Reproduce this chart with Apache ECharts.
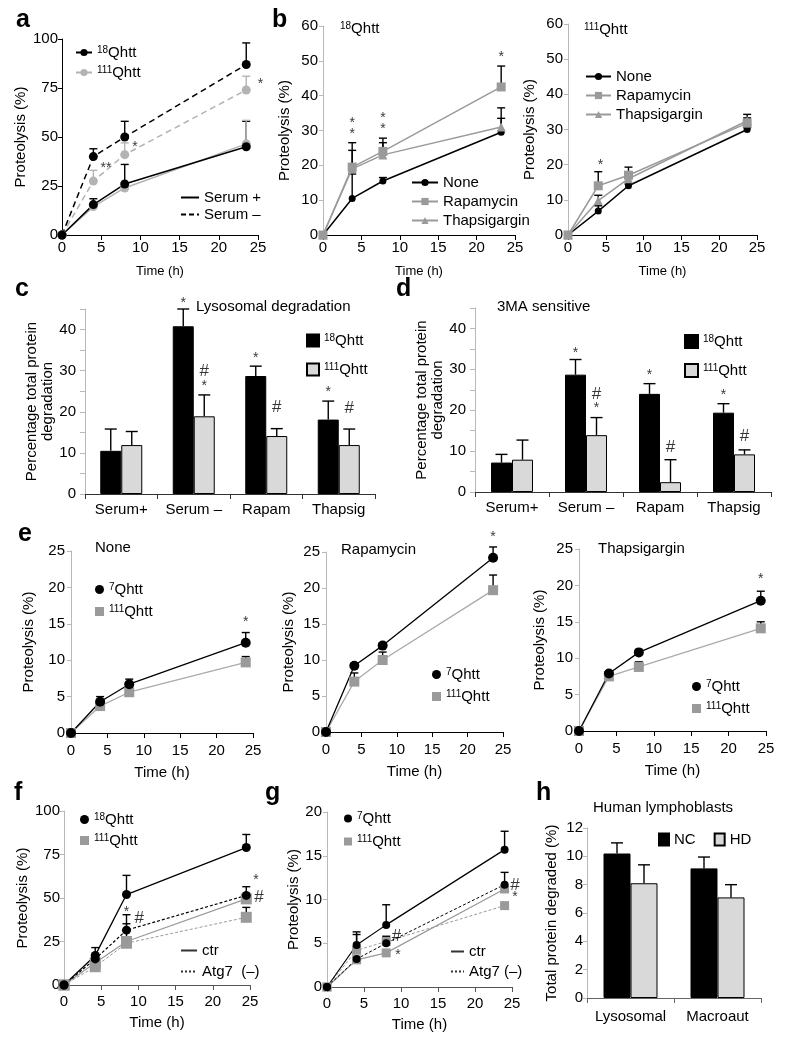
<!DOCTYPE html>
<html><head><meta charset="utf-8">
<script src="https://cdn.jsdelivr.net/npm/echarts@6/dist/echarts.min.js"></script>
<style>html,body{margin:0;padding:0;background:#fff;}#chart{width:789px;height:1050px;}</style>
</head><body><div id="chart"></div>
<script>
// ===================== DATA =====================
// panel a
const aTime = [0, 4, 8, 23.5];
const a18Minus = [0, 40, 50, 87];
const a18MinusErr = [0, 4, 8, 11];
const a111Minus = [0, 27.5, 41, 74];
const a111MinusErr = [0, 5.5, 6, 7];
const a18Plus = [0, 15.5, 26, 45];
const a18PlusErr = [0, 3, 10, 13];
const a111Plus = [0, 14.5, 24, 46.5];
const a111PlusErr = [0, 0, 0, 12];
const aMarks = [[5.6, 34, '**'], [9.3, 45, '*'], [25.3, 77, '*']];
// panel b (18Qhtt)
const b1Time = [0, 3.8, 7.8, 23.2];
const b1None = [0, 10.5, 15.5, 29.5];
const b1NoneErr = [0, 7, 1, 4];
const b1Rapa = [0, 19.5, 24, 42.5];
const b1RapaErr = [0, 7, 3.8, 6];
const b1Thap = [0, 19, 23, 31];
const b1ThapErr = [0, 5.3, 3.5, 5.5];
const b1Marks = [[3.8, 29, '*'], [3.8, 32, '*'], [7.8, 30.5, '*'], [7.8, 33.5, '*'], [23.2, 51, '*']];
// panel b (111Qhtt)
const b2Time = [0, 4, 8, 23.7];
const b2None = [0, 6.8, 14, 30];
const b2NoneErr = [0, 1.5, 0.5, 0.5];
const b2Rapa = [0, 14, 17, 31.8];
const b2RapaErr = [0, 4, 2.3, 1.5];
const b2Thap = [0, 9.8, 16, 32.5];
const b2ThapErr = [0, 1.5, 2, 1.8];
const b2Marks = [[4.3, 20, '*']];
// panel c
const barCats = ['Serum+', 'Serum \u2013', 'Rapam', 'Thapsig'];
const c18 = [10.5, 40.8, 28.7, 18.1];
const c18Err = [5.3, 4.2, 2.4, 4.5];
const c111 = [11.9, 18.9, 14.1, 11.9];
const c111Err = [3.3, 5.2, 1.8, 3.9];
const c18Marks = [[1, 46.5, '*'], [2, 33, '*'], [3, 24.8, '*']];
const c111Marks = [[1, 29.8, '#'], [1, 26.3, '*'], [2, 21.2, '#'], [3, 20.8, '#']];
// panel d
const d18 = [7.2, 28.7, 24, 19.4];
const d18Err = [2, 3.7, 2.5, 2.2];
const d111 = [7.9, 13.9, 2.4, 9.2];
const d111Err = [4.8, 4.3, 5.5, 1.1];
const d18Marks = [[1, 34, '*'], [2, 28.7, '*'], [3, 23.6, '*']];
const d111Marks = [[1, 24, '#'], [1, 20.6, '*'], [2, 10.9, '#'], [3, 13.5, '#']];
// panel e
const e1Time = [0, 4, 8, 24];
const e1Q7 = [0, 4.3, 6.7, 12.4];
const e1Q7Err = [0, 0.7, 0.7, 1.4];
const e1Q111 = [0, 3.7, 5.6, 9.7];
const e1Q111Err = [0, 0, 0, 0.8];
const e1Marks = [[24, 15.2, '*']];
const e2Time = [0, 4, 8, 23.6];
const e2Q7 = [0, 9.2, 12, 24.2];
const e2Q7Err = [0, 0.3, 0.4, 1.5];
const e2Q111 = [0, 7, 10, 19.7];
const e2Q111Err = [0, 1.2, 1.1, 2.1];
const e2Marks = [[23.6, 27, '*']];
const e3Time = [0, 4, 8, 24.3];
const e3Q7 = [0, 7.9, 10.8, 17.9];
const e3Q7Err = [0, 0.3, 0.4, 1.3];
const e3Q111 = [0, 7.5, 8.8, 14.1];
const e3Q111Err = [0, 0, 0.7, 0.9];
const e3Marks = [[24.3, 20.8, '*']];
// panel f
const fTime = [0, 4.2, 8.4, 24.5];
const f18Ctr = [0, 17, 52, 79];
const f18CtrErr = [0, 4.5, 11, 7.5];
const f18Atg = [0, 15, 31.5, 51.5];
const f18AtgErr = [0, 0, 8.9, 5];
const f111Ctr = [0, 12.8, 25, 49.5];
const f111CtrErr = [0, 0, 10.2, 0];
const f111Atg = [0, 10.5, 24, 38.9];
const f111AtgErr = [0, 0, 0, 5.7];
const fMarks = [[8.4, 42, '*'], [10.1, 38.5, '#'], [25.8, 60, '*'], [26.2, 50.5, '#']];
// panel g
const gTime = [0, 4, 8, 24];
const g7Ctr = [0, 4.8, 7.1, 15.7];
const g7CtrErr = [0, 1.5, 2.3, 2.1];
const g7Atg = [0, 3.2, 5, 11.7];
const g7AtgErr = [0, 0, 0, 1.4];
const g111Ctr = [0, 3.1, 3.9, 11.2];
const g111CtrErr = [0, 0, 0, 0];
const g111Atg = [0, 4.2, 5.2, 9.3];
const g111AtgErr = [0, 1.8, 0.6, 0];
const gMarks = [[9.4, 5.8, '#'], [9.6, 3.6, '*'], [25.4, 11.6, '#'], [25.4, 10.3, '*']];
// panel h
const hCats = ['Lysosomal', 'Macroaut'];
const hNC = [10.2, 9.15];
const hNCErr = [0.75, 0.8];
const hHD = [8.1, 7.1];
const hHDErr = [1.3, 0.9];
// tick ranges
const timeTicks = {min: 0, max: 25, interval: 5};

// ===================== BUILD =====================
const FONT = "'Liberation Sans', Arial, Helvetica, sans-serif";
const BLACK = '#000';
const GA = '#b3b3b3';   // gray in a
const GB = '#9a9a9a';   // gray in b, e, f, g
const BARG = '#d9d9d9';
const AXG = '#b8b8b8';  // light axis line
const NONE = 'rgba(0,0,0,0)';

const boxes = {
  a:[62,39,196,196], b1:[323,26,192,209], b2:[568,24,189,211],
  c:[85,309,290,185], d:[475,308,296,184],
  e1:[71,551,182,182], e2:[326,552,177,180], e3:[579,549,187,182],
  f:[64,811,186,174], g:[327,812,185,175], h:[587,828,174,170]
};
const keys = Object.keys(boxes);
const I = {}; keys.forEach((k, i) => I[k] = i);
const grid = keys.map(k => ({left: boxes[k][0], top: boxes[k][1], width: boxes[k][2], height: boxes[k][3], outerBoundsMode: 'none', containLabel: false}));

function xTime(k, o) {
  o = o || {};
  return {type: 'value', gridIndex: I[k], min: timeTicks.min, max: timeTicks.max, interval: timeTicks.interval,
    axisLine: {show: true, onZero: false, lineStyle: {color: o.lineColor || BLACK, width: 1}},
    axisTick: {show: true, length: 5, lineStyle: {color: o.lineColor || BLACK}},
    axisLabel: {color: BLACK, fontSize: o.fontSize || 15, margin: o.margin || 5, fontFamily: FONT},
    splitLine: {show: false},
    name: 'Time (h)', nameLocation: 'middle', nameGap: o.nameGap || 30,
    nameTextStyle: {fontSize: o.nameSize || 13, color: BLACK, fontFamily: FONT}};
}
function xCat(k, cats, o) {
  o = o || {};
  return {type: 'category', gridIndex: I[k], data: cats,
    axisLine: {show: true, lineStyle: {color: o.lineColor || '#333', width: 1}},
    axisTick: {show: true, length: 5, alignWithLabel: false, lineStyle: {color: o.lineColor || '#333'}},
    axisLabel: {color: BLACK, fontSize: 15, margin: o.margin || 8, fontFamily: FONT, interval: 0},
    splitLine: {show: false}};
}
function yVal(k, max, interval, name, o) {
  o = o || {};
  return {type: 'value', gridIndex: I[k], min: 0, max: max, interval: interval,
    axisLine: {show: true, lineStyle: {color: o.lineColor || AXG, width: 1}},
    axisTick: {show: true, length: o.tickLen || 4, lineStyle: {color: o.lineColor || AXG}},
    axisLabel: {color: BLACK, fontSize: o.fontSize || 15, margin: o.margin || 5, fontFamily: FONT,
      formatter: o.labelEvery ? (v => (v % o.labelEvery === 0 ? v : '')) : null},
    splitLine: {show: false},
    name: name, nameLocation: 'middle', nameRotate: 90, nameGap: o.nameGap || 30,
    nameTextStyle: {fontSize: o.nameSize || 15, color: BLACK, fontFamily: FONT, lineHeight: 16}};
}

const xAxis = [
  xTime('a', {}), xTime('b1', {}), xTime('b2', {}),
  xCat('c', barCats, {}), xCat('d', barCats, {}),
  xTime('e1', {margin: 10, nameGap: 32, nameSize: 15}), xTime('e2', {margin: 10, nameGap: 32, nameSize: 15}), xTime('e3', {margin: 10, nameGap: 32, nameSize: 15}),
  xTime('f', {margin: 9, nameGap: 30, nameSize: 15, lineColor: '#555'}), xTime('g', {margin: 9, nameGap: 30, nameSize: 15, lineColor: '#555'}),
  xCat('h', hCats, {lineColor: '#666', margin: 11})
];
const yAxis = [
  yVal('a', 100, 25, 'Proteolysis (%)', {lineColor: BLACK, nameGap: 29, margin: 4, nameSize: 15}),
  yVal('b1', 60, 10, 'Proteolysis (%)', {nameGap: 30, margin: 5}),
  yVal('b2', 60, 10, 'Proteolysis (%)', {nameGap: 30, margin: 5}),
  yVal('c', 45, 5, 'Percentage total protein\ndegradation', {nameGap: 28, margin: 9, labelEvery: 10, tickLen: 5}),
  yVal('d', 45, 5, 'Percentage total protein\ndegradation', {nameGap: 28, margin: 9, labelEvery: 10, tickLen: 5}),
  yVal('e1', 25, 5, 'Proteolysis (%)', {nameGap: 34, margin: 6}),
  yVal('e2', 25, 5, 'Proteolysis (%)', {nameGap: 29, margin: 6}),
  yVal('e3', 25, 5, 'Proteolysis (%)', {nameGap: 31, margin: 6}),
  yVal('f', 100, 25, 'Proteolysis (%)', {nameGap: 27, margin: 4}),
  yVal('g', 20, 5, 'Proteolysis (%)', {nameGap: 25, margin: 5}),
  yVal('h', 12, 2, 'Total protein degraded (%)', {nameGap: 27, margin: 4})
];

const series = [];
function pts(xs, ys) { return xs.map((x, i) => [x, ys[i]]); }
function line(k, name, xs, ys, o) {
  const noSym = o.symbol === 'none';
  series.push({type: 'line', name: name, xAxisIndex: I[k], yAxisIndex: I[k],
    data: xs ? pts(xs, ys) : [], symbol: noSym ? 'circle' : (o.symbol || 'circle'), symbolSize: noSym ? 0 : (o.size || 7),
    showSymbol: true, color: o.color, z: o.z || 3, animation: false, silent: true,
    lineStyle: {color: o.lineColor || o.color, width: o.width || 1.5, type: o.dash || 'solid'},
    itemStyle: noSym ? {color: NONE, borderColor: NONE, borderWidth: 0} : {color: o.color, borderWidth: 0}});
}
function errs(k, xs, ys, es, color, cap, dx) {
  const rows = [];
  xs.forEach((x, i) => { if (es[i] > 0) rows.push([x, ys[i], ys[i] + es[i]]); });
  series.push({type: 'custom', xAxisIndex: I[k], yAxisIndex: I[k], data: rows, z: 2, silent: true, clip: false, animation: false,
    renderItem: function (params, api) {
      const p0 = api.coord([api.value(0), api.value(1)]);
      const p1 = api.coord([api.value(0), api.value(2)]);
      const x = p0[0] + (dx || 0);
      return {type: 'group', children: [
        {type: 'line', shape: {x1: x, y1: p0[1], x2: x, y2: p1[1]}, style: {stroke: color, lineWidth: 1.4}},
        {type: 'line', shape: {x1: x - cap / 2, y1: p1[1], x2: x + cap / 2, y2: p1[1]}, style: {stroke: color, lineWidth: 1.4}}
      ]};
    }});
}
function marks(k, data, dx) {
  series.push({type: 'scatter', xAxisIndex: I[k], yAxisIndex: I[k], data: data, symbolSize: 1, clip: false, silent: true, z: 6, animation: false,
    itemStyle: {color: NONE},
    label: {show: true, position: 'inside', offset: [dx || 0, 0], color: BLACK, fontFamily: FONT,
      formatter: p => (p.data[2] === '#' ? '{h|#}' : '{s|' + p.data[2] + '}'),
      rich: {h: {fontSize: 17, fontFamily: FONT, color: BLACK}, s: {fontSize: 14, fontFamily: FONT, color: BLACK}}}});
}
function bars(k, name, vals, color, w) {
  series.push({type: 'bar', name: name, xAxisIndex: I[k], yAxisIndex: I[k], data: vals, barWidth: w, barGap: '0%',
    animation: false, silent: true, z: 2, itemStyle: {color: color, borderColor: BLACK, borderWidth: 1}});
}

// a
errs('a', aTime, a18Minus, a18MinusErr, BLACK, 8, 0);
errs('a', aTime, a111Minus, a111MinusErr, GA, 8, 0);
errs('a', aTime, a18Plus, a18PlusErr, BLACK, 8, 0);
errs('a', aTime, a111Plus, a111PlusErr, GA, 8, 0);
line('a', 'aS111', aTime, a111Plus, {color: GA, size: 9});
line('a', 'aS18', aTime, a18Plus, {color: BLACK, size: 9});
line('a', 'aD111', aTime, a111Minus, {color: GA, size: 9, dash: [6, 4]});
line('a', 'aD18', aTime, a18Minus, {color: BLACK, size: 9, dash: [6, 4]});
line('a', 'aL18', null, null, {color: BLACK, size: 9});
line('a', 'aL111', null, null, {color: GA, size: 9});
line('a', 'aLplus', null, null, {color: BLACK, symbol: 'none', width: 1.5});
line('a', 'aLminus', null, null, {color: BLACK, symbol: 'none', width: 1.5, dash: [5, 3]});
marks('a', aMarks);
// b1
errs('b1', b1Time, b1None, b1NoneErr, BLACK, 8, 0);
errs('b1', b1Time, b1Rapa, b1RapaErr, BLACK, 8, 0);
errs('b1', b1Time, b1Thap, b1ThapErr, BLACK, 8, 0);
line('b1', 'b1None', b1Time, b1None, {color: BLACK, size: 7});
line('b1', 'b1Thap', b1Time, b1Thap, {color: GB, symbol: 'triangle', size: 9});
line('b1', 'b1Rapa', b1Time, b1Rapa, {color: GB, symbol: 'rect', size: 9});
marks('b1', b1Marks);
// b2
errs('b2', b2Time, b2None, b2NoneErr, BLACK, 8, 0);
errs('b2', b2Time, b2Rapa, b2RapaErr, BLACK, 8, 0);
errs('b2', b2Time, b2Thap, b2ThapErr, BLACK, 8, 0);
line('b2', 'b2None', b2Time, b2None, {color: BLACK, size: 7});
line('b2', 'b2Thap', b2Time, b2Thap, {color: GB, symbol: 'triangle', size: 9});
line('b2', 'b2Rapa', b2Time, b2Rapa, {color: GB, symbol: 'rect', size: 9});
marks('b2', b2Marks);
// c
const catIdx = barCats.map((_, i) => i);
bars('c', 'c18', c18, BLACK, 21);
bars('c', 'c111', c111, BARG, 21);
errs('c', catIdx, c18, c18Err, BLACK, 12, -10.5);
errs('c', catIdx, c111, c111Err, BLACK, 12, 10.5);
marks('c', c18Marks, -10.5);
marks('c', c111Marks, 10.5);
// d
bars('d', 'd18', d18, BLACK, 21);
bars('d', 'd111', d111, BARG, 21);
errs('d', catIdx, d18, d18Err, BLACK, 12, -10.5);
errs('d', catIdx, d111, d111Err, BLACK, 12, 10.5);
marks('d', d18Marks, -10.5);
marks('d', d111Marks, 10.5);
// e
[['e1', e1Time, e1Q7, e1Q7Err, e1Q111, e1Q111Err, e1Marks],
 ['e2', e2Time, e2Q7, e2Q7Err, e2Q111, e2Q111Err, e2Marks],
 ['e3', e3Time, e3Q7, e3Q7Err, e3Q111, e3Q111Err, e3Marks]].forEach(r => {
  errs(r[0], r[1], r[2], r[3], BLACK, 8, 0);
  errs(r[0], r[1], r[4], r[5], BLACK, 8, 0);
  line(r[0], r[0] + 'Q111', r[1], r[4], {color: GB, lineColor: '#aaa', symbol: 'rect', size: 10, width: 1.3});
  line(r[0], r[0] + 'Q7', r[1], r[2], {color: BLACK, size: 10, width: 1.3});
  marks(r[0], r[6]);
});
// f
errs('f', fTime, f18Ctr, f18CtrErr, BLACK, 8, 0);
errs('f', fTime, f18Atg, f18AtgErr, BLACK, 8, 0);
errs('f', fTime, f111Ctr, f111CtrErr, BLACK, 8, 0);
errs('f', fTime, f111Atg, f111AtgErr, BLACK, 8, 0);
line('f', 'f111Atg', fTime, f111Atg, {color: GB, symbol: 'rect', size: 11, width: 1, dash: [3, 2]});
line('f', 'f111Ctr', fTime, f111Ctr, {color: GB, symbol: 'rect', size: 11, width: 1.2});
line('f', 'f18Atg', fTime, f18Atg, {color: BLACK, size: 9, width: 1.2, dash: [3, 2]});
line('f', 'f18Ctr', fTime, f18Ctr, {color: BLACK, size: 9, width: 1.3});
line('f', 'fL18', null, null, {color: BLACK, size: 9});
line('f', 'fL111', null, null, {color: GB, symbol: 'rect', size: 11});
line('f', 'fLctr', null, null, {color: '#333', symbol: 'none', width: 1.2});
line('f', 'fLatg', null, null, {color: '#333', symbol: 'none', width: 1, dash: [2, 2]});
marks('f', fMarks);
// g
errs('g', gTime, g7Ctr, g7CtrErr, BLACK, 8, 0);
errs('g', gTime, g7Atg, g7AtgErr, BLACK, 8, 0);
errs('g', gTime, g111Ctr, g111CtrErr, BLACK, 8, 0);
errs('g', gTime, g111Atg, g111AtgErr, BLACK, 8, 0);
line('g', 'g111Atg', gTime, g111Atg, {color: GB, symbol: 'rect', size: 9, width: 1, dash: [3, 2]});
line('g', 'g111Ctr', gTime, g111Ctr, {color: GB, symbol: 'rect', size: 9, width: 1.2});
line('g', 'g7Atg', gTime, g7Atg, {color: BLACK, size: 8, width: 1, dash: [3, 2]});
line('g', 'g7Ctr', gTime, g7Ctr, {color: BLACK, size: 8, width: 1.2});
line('g', 'gL7', null, null, {color: BLACK, size: 8});
line('g', 'gL111', null, null, {color: GB, symbol: 'rect', size: 9});
line('g', 'gLctr', null, null, {color: '#333', symbol: 'none', width: 1.2});
line('g', 'gLatg', null, null, {color: '#333', symbol: 'none', width: 1, dash: [2, 2]});
marks('g', gMarks);
// h
const hIdx = hCats.map((_, i) => i);
bars('h', 'hNC', hNC, BLACK, 27);
bars('h', 'hHD', hHD, BARG, 27);
errs('h', hIdx, hNC, hNCErr, BLACK, 12, -13.5);
errs('h', hIdx, hHD, hHDErr, BLACK, 12, 13.5);

// ===================== LEGENDS =====================
const LN = {
  aL18: '{s|18}Qhtt', aL111: '{s|111}Qhtt', aLplus: 'Serum +', aLminus: 'Serum \u2013',
  b1None: 'None', b1Rapa: 'Rapamycin', b1Thap: 'Thapsigargin',
  b2None: 'None', b2Rapa: 'Rapamycin', b2Thap: 'Thapsigargin',
  c18: '{s|18}Qhtt', c111: '{s|111}Qhtt', d18: '{s|18}Qhtt', d111: '{s|111}Qhtt',
  e1Q7: '{s|7}Qhtt', e1Q111: '{s|111}Qhtt', e2Q7: '{s|7}Qhtt', e2Q111: '{s|111}Qhtt', e3Q7: '{s|7}Qhtt', e3Q111: '{s|111}Qhtt',
  fL18: '{s|18}Qhtt', fL111: '{s|111}Qhtt', fLctr: 'ctr', fLatg: 'Atg7  (\u2013)',
  gL7: '{s|7}Qhtt', gL111: '{s|111}Qhtt', gLctr: 'ctr', gLatg: 'Atg7 (\u2013)',
  hNC: 'NC', hHD: 'HD'
};
const RICH = {s: {fontSize: 10, verticalAlign: 'top', fontFamily: FONT, color: BLACK, lineHeight: 10}};
function leg(data, left, top, o) {
  o = o || {};
  return {left: left, top: top, orient: o.orient || 'vertical', itemGap: o.gap != null ? o.gap : 6,
    itemWidth: o.w || 20, itemHeight: o.h || 10, padding: 0, data: data, selectedMode: false,
    formatter: n => LN[n], inactiveColor: '#000',
    textStyle: {fontSize: o.fs || 15, color: BLACK, fontFamily: FONT, padding: [0, 0, 0, o.tp || 0], rich: RICH}};
}
const sq = n => ({name: n, icon: 'rect'});
const ci = n => ({name: n, icon: 'circle'});
const legend = [
  leg(['aL18', 'aL111'], 75, 45, {w: 16, h: 9, gap: 5}),
  leg(['aLplus', 'aLminus'], 180, 190, {w: 18, h: 10, gap: 2}),
  leg(['b1None', 'b1Rapa', 'b1Thap'], 411, 175, {w: 26, h: 9, gap: 4}),
  leg(['b2None', 'b2Rapa', 'b2Thap'], 585, 69, {w: 25, h: 9, gap: 4}),
  leg([sq('c18'), sq('c111')], 306, 333, {w: 12, h: 12, gap: 14}),
  leg([sq('d18'), sq('d111')], 684, 334, {w: 13, h: 13, gap: 14}),
  leg([ci('e1Q7'), sq('e1Q111')], 95, 582, {w: 9, h: 9, gap: 7}),
  leg([ci('e2Q7'), sq('e2Q111')], 432, 667, {w: 9, h: 9, gap: 7}),
  leg([ci('e3Q7'), sq('e3Q111')], 692, 679, {w: 9, h: 9, gap: 7}),
  leg([ci('fL18'), sq('fL111')], 80, 812, {w: 9, h: 9, gap: 6}),
  leg(['fLctr', 'fLatg'], 180, 943, {w: 16, h: 8, gap: 6}),
  leg([ci('gL7'), sq('gL111')], 344, 811, {w: 8, h: 8, gap: 8}),
  leg(['gLctr', 'gLatg'], 450, 944, {w: 13, h: 8, gap: 5}),
  leg([sq('hNC'), sq('hHD')], 658, 832, {orient: 'horizontal', w: 10, h: 12, gap: 18})
];

// ===================== TITLES =====================
function ttl(text, left, top, o) {
  o = o || {};
  return {text: text, left: left, top: top, padding: 0,
    textStyle: {fontSize: o.fs || 15, fontWeight: o.bold ? 'bold' : 'normal', color: BLACK, fontFamily: FONT,
      rich: {s: {fontSize: 10, verticalAlign: 'top', fontFamily: FONT, color: BLACK, lineHeight: 10}}}};
}
const title = [
  ttl('a', 16, 8, {fs: 25, bold: true}), ttl('b', 272, 8, {fs: 25, bold: true}),
  ttl('c', 15, 277, {fs: 25, bold: true}), ttl('d', 396, 277, {fs: 25, bold: true}),
  ttl('e', 18, 522, {fs: 25, bold: true}), ttl('f', 14, 781, {fs: 25, bold: true}),
  ttl('g', 265, 781, {fs: 25, bold: true}), ttl('h', 536, 781, {fs: 25, bold: true}),
  ttl('{s|18}Qhtt', 340, 21, {fs: 15}), ttl('{s|111}Qhtt', 584, 22, {fs: 15}),
  ttl('Lysosomal degradation', 196, 299, {fs: 15}), ttl('3MA sensitive', 497, 299, {fs: 15}),
  ttl('None', 95, 540, {fs: 15}), ttl('Rapamycin', 341, 542, {fs: 15}), ttl('Thapsigargin', 598, 541, {fs: 15}),
  ttl('Human lymphoblasts', 593, 800, {fs: 15})
];

const chart = echarts.init(document.getElementById('chart'), null, {renderer: 'canvas'});
chart.setOption({
  animation: false, backgroundColor: '#fff',
  textStyle: {fontFamily: FONT},
  title: title, legend: legend, grid: grid, xAxis: xAxis, yAxis: yAxis, series: series
});
</script></body></html>
